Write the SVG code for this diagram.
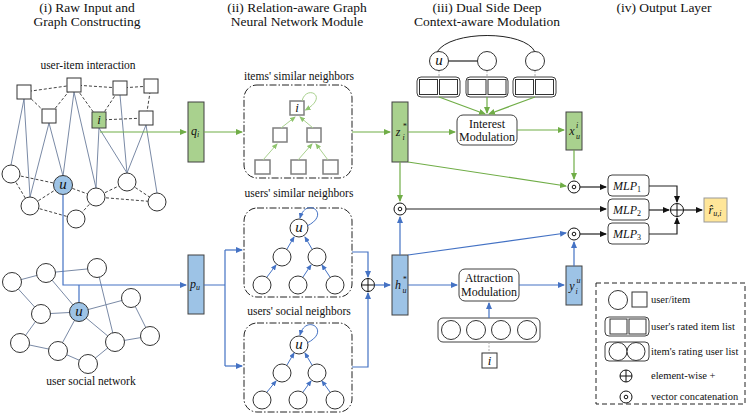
<svg xmlns="http://www.w3.org/2000/svg" width="747" height="415" viewBox="0 0 747 415" font-family="'Liberation Serif', 'Times New Roman', 'DejaVu Serif', serif">
<defs>
<marker id="ag" markerWidth="7" markerHeight="6" refX="6" refY="3" orient="auto" markerUnits="userSpaceOnUse"><path d="M0,0 L7,3 L0,6 z" fill="#70ad47"/></marker>
<marker id="ab" markerWidth="7" markerHeight="6" refX="6" refY="3" orient="auto" markerUnits="userSpaceOnUse"><path d="M0,0 L7,3 L0,6 z" fill="#4472c4"/></marker>
<marker id="ak" markerWidth="7" markerHeight="6" refX="6" refY="3" orient="auto" markerUnits="userSpaceOnUse"><path d="M0,0 L7,3 L0,6 z" fill="#111"/></marker>
<marker id="alg" markerWidth="6" markerHeight="5" refX="5" refY="2.5" orient="auto" markerUnits="userSpaceOnUse"><path d="M0,0 L6,2.5 L0,5 z" fill="#8fc46e"/></marker>
<marker id="alb" markerWidth="6" markerHeight="5" refX="5" refY="2.5" orient="auto" markerUnits="userSpaceOnUse"><path d="M0,0 L6,2.5 L0,5 z" fill="#4472c4"/></marker>
</defs>
<style>
text{font-family:'Liberation Serif','Times New Roman','DejaVu Serif',serif}
.title{font-size:13.5px;text-anchor:middle;fill:#111}
.lbl{font-size:11.5px;text-anchor:middle;fill:#111}
.mod{font-size:12px;text-anchor:middle;fill:#111}
.math{font-style:italic;font-size:12px;text-anchor:middle;fill:#111}
.mi{font-style:italic;font-size:13px;text-anchor:middle;fill:#111}
.sup{font-style:italic;font-size:8px;fill:#111}
.um{font-style:italic;font-size:15px;text-anchor:middle;fill:#111}
.leg{font-size:10.5px;fill:#111}
.nd{fill:#fff;stroke:#333;stroke-width:1}
.ndu{fill:#9dc3e6;stroke:#333;stroke-width:1}
.sq{fill:#fff;stroke:#333;stroke-width:1}
.gs{fill:#fff;stroke:#7f7f7f;stroke-width:1.5}
.ge{stroke:#7a8aa6;stroke-width:1;fill:none}
.gd{stroke:#444;stroke-width:1;stroke-dasharray:3,2;fill:none}
.box{fill:none;stroke:#222;stroke-width:1;stroke-dasharray:7,2,1.5,2}
.g{stroke:#70ad47;stroke-width:1.2;fill:none}
.b{stroke:#4472c4;stroke-width:1.2;fill:none}
.k{stroke:#222;stroke-width:1.2;fill:none}
.lg{stroke:#a9d18e;stroke-width:1;fill:none}
.lb{stroke:#4472c4;stroke-width:1;fill:none}
.dot{stroke:#aaa;stroke-width:1;stroke-dasharray:2,1.5;fill:none}
.vg{fill:#a9d18e;stroke:#404040;stroke-width:1}
.vb{fill:#9dc3e6;stroke:#404040;stroke-width:1}
.mb{fill:#fff;stroke:#404040;stroke-width:1}
.op{fill:#fff;stroke:#111;stroke-width:1}
</style>

<g id="titles">
<text class="title" x="87" y="12">(i) Raw Input and</text>
<text class="title" x="87" y="26">Graph Constructing</text>
<text class="title" x="297" y="12">(ii) Relation-aware Graph</text>
<text class="title" x="297" y="26">Neural Network Module</text>
<text class="title" x="487" y="12">(iii) Dual Side Deep</text>
<text class="title" x="487" y="26">Context-aware Modulation</text>
<text class="title" x="664" y="12">(iv) Output Layer</text>
</g>

<g id="interaction-graph">
<text class="lbl" x="88" y="69">user-item interaction</text>
<g class="ge">
<line x1="24" y1="99" x2="11" y2="165"/>
<line x1="24" y1="99" x2="30" y2="197"/>
<line x1="49" y1="123" x2="30" y2="197"/>
<line x1="49" y1="123" x2="63" y2="176"/>
<line x1="74" y1="92" x2="63" y2="176"/>
<line x1="74" y1="92" x2="96" y2="188"/>
<line x1="99" y1="128" x2="96" y2="188"/>
<line x1="99" y1="128" x2="127" y2="173"/>
<line x1="120" y1="95" x2="127" y2="173"/>
<line x1="146" y1="125" x2="127" y2="173"/>
<line x1="146" y1="125" x2="157" y2="193"/>
</g>
<g class="gd">
<line x1="24" y1="92" x2="74" y2="85"/>
<line x1="74" y1="85" x2="120" y2="88"/>
<line x1="120" y1="88" x2="151" y2="86"/>
<line x1="24" y1="92" x2="49" y2="116"/>
<line x1="49" y1="116" x2="74" y2="85"/>
<line x1="74" y1="85" x2="99" y2="120"/>
<line x1="120" y1="88" x2="99" y2="120"/>
<line x1="151" y1="86" x2="146" y2="118"/>
<line x1="99" y1="120" x2="146" y2="118"/>
<line x1="11" y1="174" x2="63" y2="185"/>
<line x1="11" y1="174" x2="30" y2="206"/>
<line x1="30" y1="206" x2="63" y2="185"/>
<line x1="30" y1="206" x2="76" y2="219"/>
<line x1="63" y1="185" x2="96" y2="197"/>
<line x1="96" y1="197" x2="76" y2="219"/>
<line x1="96" y1="197" x2="127" y2="182"/>
<line x1="127" y1="182" x2="157" y2="202"/>
<line x1="96" y1="197" x2="157" y2="202"/>
</g>
<rect class="sq" x="17" y="85" width="14" height="14"/>
<rect class="sq" x="67" y="78" width="14" height="14"/>
<rect class="sq" x="113" y="81" width="14" height="14"/>
<rect class="sq" x="144" y="79" width="14" height="14"/>
<rect class="sq" x="42" y="109" width="14" height="14"/>
<rect class="sq" x="139" y="111" width="14" height="14"/>
<rect class="vg" x="92" y="112" width="14" height="16"/>
<text class="mi" x="99" y="124">i</text>
<circle class="nd" cx="11" cy="174" r="9"/>
<circle class="nd" cx="30" cy="206" r="9"/>
<circle class="nd" cx="96" cy="197" r="9"/>
<circle class="nd" cx="76" cy="219" r="9"/>
<circle class="nd" cx="127" cy="182" r="9"/>
<circle class="nd" cx="157" cy="202" r="9"/>
<circle class="ndu" cx="63" cy="185" r="9.5"/>
<text class="um" x="63" y="189">u</text>
</g>

<g id="social-graph">
<g class="ge">
<line x1="12" y1="282" x2="46" y2="273"/>
<line x1="46" y1="273" x2="97" y2="268"/>
<line x1="12" y1="282" x2="41" y2="314"/>
<line x1="46" y1="273" x2="79" y2="312"/>
<line x1="97" y1="268" x2="115" y2="342"/>
<line x1="41" y1="314" x2="79" y2="312"/>
<line x1="79" y1="312" x2="131" y2="298"/>
<line x1="79" y1="312" x2="115" y2="342"/>
<line x1="79" y1="312" x2="58" y2="351"/>
<line x1="41" y1="314" x2="20" y2="343"/>
<line x1="20" y1="343" x2="58" y2="351"/>
<line x1="58" y1="351" x2="88" y2="364"/>
<line x1="88" y1="364" x2="115" y2="342"/>
<line x1="115" y1="342" x2="150" y2="336"/>
<line x1="131" y1="298" x2="150" y2="336"/>
</g>
<circle class="nd" cx="12" cy="282" r="9.5"/>
<circle class="nd" cx="46" cy="273" r="9.5"/>
<circle class="nd" cx="97" cy="268" r="9.5"/>
<circle class="nd" cx="131" cy="298" r="9.5"/>
<circle class="nd" cx="41" cy="314" r="9.5"/>
<circle class="nd" cx="20" cy="343" r="9.5"/>
<circle class="nd" cx="58" cy="351" r="9.5"/>
<circle class="nd" cx="88" cy="364" r="9.5"/>
<circle class="nd" cx="115" cy="342" r="9.5"/>
<circle class="nd" cx="150" cy="336" r="9.5"/>
<circle class="ndu" cx="79" cy="312" r="9.5"/>
<text class="um" x="79" y="316">u</text>
<text class="lbl" x="91" y="385">user social network</text>
</g>

<g id="q_i"><rect class="vg" x="188" y="102" width="16" height="60"/>
<text class="math" x="195" y="135">q<tspan font-size="8" dy="2">i</tspan></text></g>
<g id="p_u"><rect class="vb" x="188" y="255" width="16" height="59"/>
<text class="math" x="195" y="288">p<tspan font-size="8" dy="2">u</tspan></text></g>

<g id="items-similar">
<text class="lbl" x="299" y="80">items' similar neighbors</text>
<rect class="box" x="244" y="85" width="108" height="93" rx="13"/>
<rect class="gs" x="290" y="101" width="14" height="14"/>
<text class="mi" x="297" y="112">i</text>
<rect class="gs" x="273" y="128" width="14" height="14"/>
<rect class="gs" x="307" y="128" width="14" height="14"/>
<rect class="gs" x="255" y="160" width="15" height="14"/>
<rect class="gs" x="291" y="160" width="15" height="14"/>
<rect class="gs" x="323" y="160" width="15" height="14"/>
<g class="lg">
<path d="M302,101 C306,84 330,96 305.5,110" marker-end="url(#alg)"/>
<line x1="263" y1="160" x2="277" y2="144" marker-end="url(#alg)"/>
<line x1="298" y1="160" x2="312" y2="144" marker-end="url(#alg)"/>
<line x1="328" y1="160" x2="316" y2="144" marker-end="url(#alg)"/>
<line x1="281" y1="128" x2="295" y2="117" marker-end="url(#alg)"/>
<line x1="313" y1="128" x2="300" y2="117" marker-end="url(#alg)"/>
</g>
</g>

<g id="users-similar">
<text class="lbl" x="299" y="197">users' similar neighbors</text>
<rect class="box" x="244" y="208" width="108" height="89" rx="13"/>
<circle class="nd" cx="299" cy="228" r="9"/>
<text class="um" x="299" y="232">u</text>
<circle class="nd" cx="282" cy="257" r="9"/>
<circle class="nd" cx="317" cy="257" r="9"/>
<circle class="nd" cx="262" cy="285" r="9"/>
<circle class="nd" cx="298" cy="285" r="9"/>
<circle class="nd" cx="335" cy="285" r="9"/>
<g class="lb">
<path d="M307,226 C332,214 306,196 300,218" marker-end="url(#alb)"/>
<line x1="267" y1="277" x2="276" y2="265" marker-end="url(#alb)"/>
<line x1="303" y1="277" x2="311" y2="265" marker-end="url(#alb)"/>
<line x1="330" y1="277" x2="322" y2="265" marker-end="url(#alb)"/>
<line x1="287" y1="249" x2="294" y2="237" marker-end="url(#alb)"/>
<line x1="312" y1="249" x2="305" y2="237" marker-end="url(#alb)"/>
</g>
</g>

<g id="users-social">
<text class="lbl" x="299" y="315">users' social neighbors</text>
<rect class="box" x="244" y="323" width="108" height="89" rx="13"/>
<circle class="nd" cx="299" cy="345" r="9"/>
<text class="um" x="299" y="349">u</text>
<circle class="nd" cx="282" cy="373" r="9"/>
<circle class="nd" cx="317" cy="373" r="9"/>
<circle class="nd" cx="262" cy="400" r="9"/>
<circle class="nd" cx="298" cy="400" r="9"/>
<circle class="nd" cx="335" cy="400" r="9"/>
<g class="lb">
<path d="M307,343 C332,331 306,313 300,335" marker-end="url(#alb)"/>
<line x1="267" y1="392" x2="276" y2="381" marker-end="url(#alb)"/>
<line x1="303" y1="392" x2="311" y2="381" marker-end="url(#alb)"/>
<line x1="330" y1="392" x2="322" y2="381" marker-end="url(#alb)"/>
<line x1="287" y1="365" x2="294" y2="353" marker-end="url(#alb)"/>
<line x1="312" y1="365" x2="305" y2="353" marker-end="url(#alb)"/>
</g>
</g>

<g id="oplus-gnn"><circle class="op" cx="368" cy="285" r="6.5"/><path d="M361.5,285 H374.5 M368,278.5 V291.5" stroke="#111" stroke-width="1"/></g>

<g id="z_i"><rect class="vg" x="392" y="102" width="16" height="60"/>
<text class="math" x="398" y="136">z</text><text class="sup" x="402.5" y="129">*</text><text class="sup" x="402.5" y="140">i</text></g>
<g id="h_u"><rect class="vb" x="392" y="255" width="16" height="60"/>
<text class="math" x="398" y="289">h</text><text class="sup" x="402.5" y="282">*</text><text class="sup" x="402.5" y="293">u</text></g>

<g id="context-graph">
<path d="M437,52 C450,30 525,30 535,52" fill="none" stroke="#222" stroke-width="1"/>
<line x1="448.5" y1="61" x2="478" y2="61" stroke="#222" stroke-width="1.2"/>
<g class="dot"><line x1="439" y1="70.5" x2="439" y2="77"/><line x1="487" y1="70.5" x2="487" y2="77"/><line x1="535" y1="70.5" x2="535" y2="77"/></g>
<circle class="nd" cx="439" cy="61" r="9.5"/>
<text class="um" x="439" y="65">u</text>
<circle class="nd" cx="487" cy="61" r="9.5"/>
<circle class="nd" cx="535" cy="61" r="9.5"/>
<rect class="mb" x="417" y="77" width="43" height="20" rx="4"/>
<rect class="sq" x="419.5" y="79.5" width="18" height="15"/><rect class="sq" x="439.5" y="79.5" width="18" height="15"/>
<rect class="mb" x="466" y="77" width="42" height="20" rx="4"/>
<rect class="sq" x="468" y="79.5" width="18" height="15"/><rect class="sq" x="488" y="79.5" width="18" height="15"/>
<rect class="mb" x="513" y="77" width="43" height="20" rx="4"/>
<rect class="sq" x="515.5" y="79.5" width="18" height="15"/><rect class="sq" x="535.5" y="79.5" width="18" height="15"/>
</g>

<g id="interest-mod"><rect class="mb" x="457" y="115" width="60" height="30" rx="6"/>
<text class="mod" x="487" y="128">Interest</text><text class="mod" x="487" y="141">Modulation</text></g>
<g id="attraction-mod"><rect class="mb" x="459" y="269" width="60" height="32" rx="6"/>
<text class="mod" x="489" y="282">Attraction</text><text class="mod" x="489" y="296">Modulation</text></g>

<g id="user-list">
<rect class="mb" x="438" y="318" width="102" height="24" rx="5"/>
<circle class="nd" cx="451" cy="330" r="9.5"/><circle class="nd" cx="476" cy="330" r="9.5"/>
<circle class="nd" cx="501" cy="330" r="9.5"/><circle class="nd" cx="527" cy="330" r="9.5"/>
<line class="dot" x1="489" y1="342" x2="489" y2="353"/>
<rect class="sq" x="482" y="353" width="15" height="15"/>
<text class="mi" x="489.5" y="365">i</text>
</g>

<g id="x_u"><rect class="vg" x="566" y="112" width="16" height="38"/>
<text class="math" x="572" y="135">x</text><text class="sup" x="576" y="128">i</text><text class="sup" x="576" y="139">u</text></g>
<g id="y_i"><rect class="vb" x="566" y="266" width="16" height="39"/>
<text class="math" x="572" y="290">y</text><text class="sup" x="576.5" y="283">u</text><text class="sup" x="575.5" y="294">i</text></g>

<g id="odot-mid"><circle class="op" cx="400" cy="209" r="6"/><circle cx="400" cy="209" r="1.8" fill="none" stroke="#111"/></g>
<g id="odot-1"><circle class="op" cx="574" cy="187" r="6"/><circle cx="574" cy="187" r="1.8" fill="none" stroke="#111"/></g>
<g id="odot-3"><circle class="op" cx="574" cy="234" r="6"/><circle cx="574" cy="234" r="1.8" fill="none" stroke="#111"/></g>

<g id="mlp1"><rect class="mb" x="608" y="175" width="41" height="21" rx="4"/><text class="math" x="627" y="190">MLP<tspan font-style="normal" font-size="8" dy="2">1</tspan></text></g>
<g id="mlp2"><rect class="mb" x="608" y="199" width="41" height="21" rx="4"/><text class="math" x="627" y="214">MLP<tspan font-style="normal" font-size="8" dy="2">2</tspan></text></g>
<g id="mlp3"><rect class="mb" x="608" y="223" width="41" height="21" rx="4"/><text class="math" x="627" y="238">MLP<tspan font-style="normal" font-size="8" dy="2">3</tspan></text></g>
<g id="oplus-out"><circle class="op" cx="677" cy="210" r="6.5"/><path d="M670.5,210 H683.5 M677,203.5 V216.5" stroke="#111" stroke-width="1"/></g>
<g id="r_ui"><rect x="704" y="198" width="23" height="24" fill="#ffe699" stroke="#999"/>
<text class="math" x="715" y="214">r̂<tspan font-size="8" dy="2">u,i</tspan></text></g>

<g id="connectors">
<path class="g" d="M100,132 H186" marker-end="url(#ag)"/>
<path class="b" d="M63,194.5 V285 H186" marker-end="url(#ab)"/>
<path class="b" d="M79,302 V285"/>
<path class="g" d="M204,132 H242" marker-end="url(#ag)"/>
<path class="b" d="M204,285 H225 M225,250 V366"/>
<path class="b" d="M225,250 H242" marker-end="url(#ab)"/>
<path class="b" d="M225,366 H242" marker-end="url(#ab)"/>
<path class="b" d="M352,252 H368 V277" marker-end="url(#ab)"/>
<path class="b" d="M352,367 H368 V293" marker-end="url(#ab)"/>
<path class="b" d="M374.5,285 H390" marker-end="url(#ab)"/>
<path class="g" d="M352,132 H390" marker-end="url(#ag)"/>
<path class="g" d="M408,132 H455" marker-end="url(#ag)"/>
<path class="g" d="M517,130 H564" marker-end="url(#ag)"/>
<path class="g" d="M439,97 L485,114" marker-end="url(#ag)"/>
<path class="g" d="M487,97 V113" marker-end="url(#ag)"/>
<path class="g" d="M535,97 L489,114" marker-end="url(#ag)"/>
<path class="g" d="M400,162 V201" marker-end="url(#ag)"/>
<path class="g" d="M408,162 L566,186" marker-end="url(#ag)"/>
<path class="g" d="M574,150 V179" marker-end="url(#ag)"/>
<path class="b" d="M400,255 V217" marker-end="url(#ab)"/>
<path class="b" d="M408,255 L566,233" marker-end="url(#ab)"/>
<path class="b" d="M574,266 V242" marker-end="url(#ab)"/>
<path class="b" d="M408,285 H457" marker-end="url(#ab)"/>
<path class="b" d="M519,285 H564" marker-end="url(#ab)"/>
<path class="b" d="M489,318 V303" marker-end="url(#ab)"/>
<path class="k" d="M406,209 H606" marker-end="url(#ak)"/>
<path class="k" d="M580,187 H606" marker-end="url(#ak)"/>
<path class="k" d="M580,234 H606" marker-end="url(#ak)"/>
<path class="k" d="M649,186 H677 V202" marker-end="url(#ak)"/>
<path class="k" d="M649,210 H669" marker-end="url(#ak)"/>
<path class="k" d="M649,234 H677 V218" marker-end="url(#ak)"/>
<path class="k" d="M683.5,210 H702" marker-end="url(#ak)"/>
</g>

<g id="legend">
<rect x="596" y="283" width="149" height="121" fill="none" stroke="#222" stroke-dasharray="5,3"/>
<circle class="nd" cx="618" cy="300" r="9.5"/>
<rect class="sq" x="632" y="292" width="15" height="15"/>
<text class="leg" x="651" y="303">user/item</text>
<rect class="mb" x="605" y="317" width="44" height="19" rx="4"/>
<rect class="sq" x="610" y="319" width="17" height="15"/><rect class="sq" x="629" y="319" width="17" height="15"/>
<text class="leg" x="651" y="330">user's rated item list</text>
<rect class="mb" x="605" y="342" width="44" height="19" rx="4"/>
<circle class="nd" cx="618" cy="351.5" r="9"/><circle class="nd" cx="636" cy="351.5" r="9"/>
<text class="leg" x="651" y="355">item's rating user list</text>
<circle class="op" cx="626" cy="376" r="6"/><path d="M620,376 H632 M626,370 V382" stroke="#111" stroke-width="1"/>
<text class="leg" x="651" y="379">element-wise +</text>
<circle class="op" cx="626" cy="397" r="6"/><circle cx="626" cy="397" r="1.8" fill="none" stroke="#111"/>
<text class="leg" x="651" y="400">vector concatenation</text>
</g>
</svg>
